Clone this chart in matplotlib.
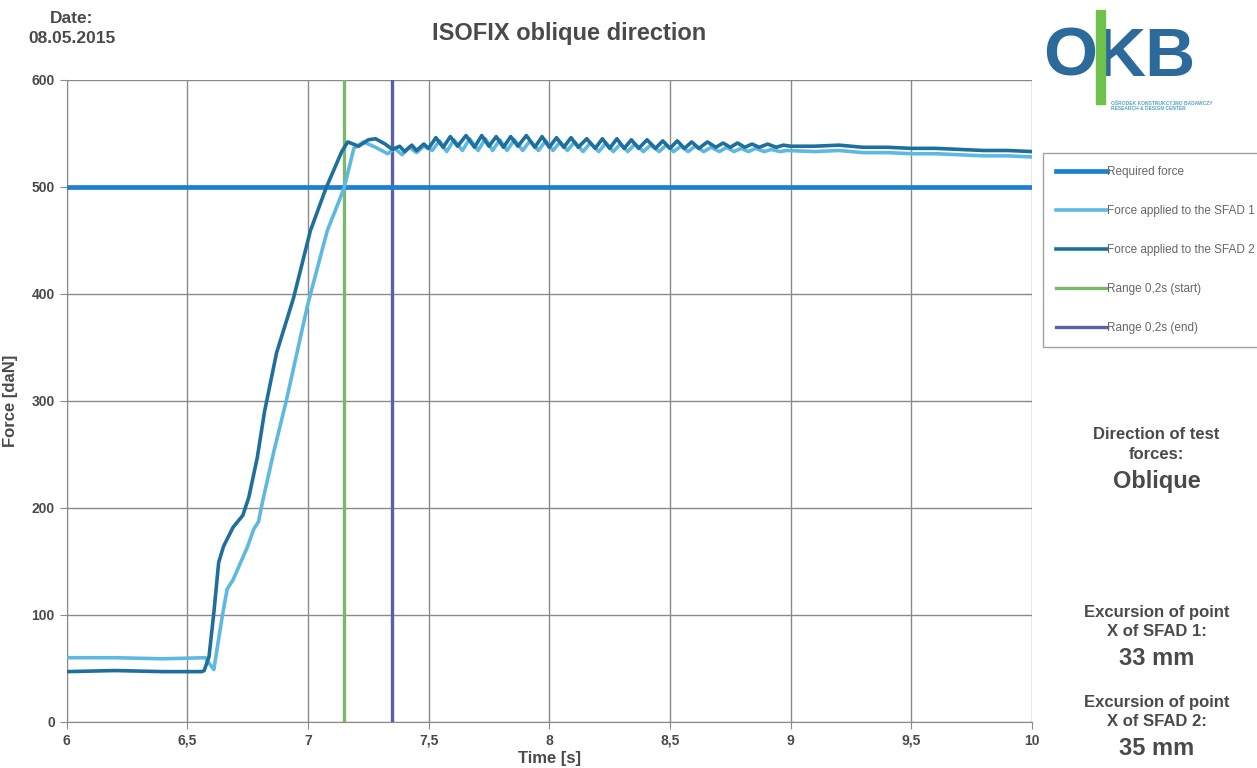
import numpy as np
import matplotlib
matplotlib.use('Agg')
import matplotlib.pyplot as plt
from matplotlib.patches import Rectangle

plt.rcParams['font.family'] = ['Liberation Sans', 'DejaVu Sans']
plt.rcParams['font.weight'] = 'bold'

# Colors
clr_req = '#1f7fd2'
clr_s1 = '#5db8e2'
clr_s2 = '#1f6f9e'
clr_start = '#7bb86c'
clr_end = '#5b5ea8'
clr_txt = '#4a4a4a'

# Data
required_force = 500
range_start = 7.15
range_end = 7.35

t_s2 = [6.0, 6.2, 6.4, 6.56, 6.57, 6.59, 6.61, 6.63, 6.65, 6.69, 6.73, 6.755, 6.79, 6.82,
        6.87, 6.94, 7.01, 7.075, 7.14, 7.165, 7.21, 7.25, 7.28, 7.32, 7.35, 7.38, 7.40,
        7.43, 7.45, 7.48,
        7.50, 7.53, 7.56, 7.59, 7.62, 7.655, 7.69, 7.72, 7.75, 7.78, 7.81, 7.84, 7.87,
        7.905, 7.94, 7.97, 8.00, 8.03, 8.06, 8.09, 8.12, 8.155, 8.19, 8.22, 8.25, 8.28,
        8.31, 8.34, 8.37, 8.405, 8.44, 8.47, 8.50, 8.53, 8.56, 8.59, 8.62, 8.655, 8.69,
        8.72, 8.75, 8.78, 8.81, 8.84, 8.87, 8.905, 8.94, 8.97, 9.00,
        9.1, 9.2, 9.3, 9.4, 9.5, 9.6, 9.7, 9.8, 9.9, 10.0]
f_s2 = [47, 48, 47, 47, 48, 61, 102, 149, 164, 182, 193, 210, 247, 290,
        345, 396, 459, 499, 533, 542, 538, 544, 545, 540, 535, 538, 533,
        539, 534, 540,
        536, 546, 537, 547, 538, 548, 537, 548, 538, 547, 537, 547, 538,
        548, 537, 547, 537, 546, 537, 546, 537, 545, 536, 545, 536, 545,
        536, 544, 536, 544, 536, 543, 536, 543, 536, 542, 536, 542, 537,
        541, 537, 541, 537, 540, 537, 540, 537, 539, 538,
        538, 539, 537, 537, 536, 536, 535, 534, 534, 533]

t_s1 = [6.0, 6.2, 6.4, 6.575, 6.59, 6.61, 6.645, 6.665, 6.69, 6.75, 6.775, 6.795, 6.81,
        6.86, 6.91, 7.0, 7.08, 7.15, 7.19, 7.23, 7.28, 7.33, 7.36, 7.39, 7.42, 7.45, 7.48,
        7.515, 7.545, 7.575, 7.605, 7.64, 7.67, 7.705, 7.735, 7.765, 7.795, 7.825, 7.855,
        7.89, 7.92, 7.955, 7.985, 8.015, 8.045, 8.075, 8.105, 8.14, 8.17, 8.205, 8.235,
        8.265, 8.295, 8.325, 8.355, 8.39, 8.42, 8.455, 8.485, 8.515, 8.545, 8.575, 8.605,
        8.64, 8.67, 8.705, 8.735, 8.765, 8.795, 8.825, 8.855, 8.89, 8.92, 8.955, 8.985,
        9.1, 9.2, 9.3, 9.4, 9.5, 9.6, 9.7, 9.8, 9.9, 10.0]
f_s1 = [60, 60, 59, 60, 55, 49, 99, 124, 133, 164, 180, 187, 204,
        254, 300, 391, 459, 499, 536, 542, 537, 531, 536, 530, 537, 532, 538,
        534, 543, 533, 544, 534, 545, 534, 545, 534, 544, 534, 544,
        534, 543, 534, 543, 534, 542, 534, 542, 533, 541, 533, 541,
        533, 540, 533, 540, 533, 539, 533, 539, 533, 538, 533, 538,
        533, 537, 533, 537, 533, 536, 533, 536, 533, 535, 533, 534,
        533, 534, 532, 532, 531, 531, 530, 529, 529, 528]

x_ticks = [6, 6.5, 7, 7.5, 8, 8.5, 9, 9.5, 10]
x_labels = ['6', '6,5', '7', '7,5', '8', '8,5', '9', '9,5', '10']
y_ticks = [0, 100, 200, 300, 400, 500, 600]

# Figure
fig = plt.figure(figsize=(12.57, 7.68), dpi=100)
ax = fig.add_axes([0.053, 0.060, 0.768, 0.836])

ax.plot([6, 10], [required_force, required_force], c=clr_req, lw=3.4, label='Required force', zorder=3)
ax.plot(t_s1, f_s1, c=clr_s1, lw=2.6, label='Force applied to the SFAD 1', zorder=4)
ax.plot(t_s2, f_s2, c=clr_s2, lw=2.6, label='Force applied to the SFAD 2', zorder=5)
ax.axvline(range_start, c=clr_start, lw=2.4, label='Range 0,2s (start)', zorder=2)
ax.axvline(range_end, c=clr_end, lw=2.4, label='Range 0,2s (end)', zorder=2)

ax.set(xlim=(6, 10), ylim=(0, 600))
ax.set_xticks(x_ticks)
ax.set_xticklabels(x_labels)
ax.set_yticks(y_ticks)
ax.grid(True, color='#8a8a8a', lw=1.0)
ax.set_axisbelow(True)
for s in ['top', 'right']:
    ax.spines[s].set_visible(False)
for s in ['left', 'bottom']:
    ax.spines[s].set_color('#8a8a8a')
ax.tick_params(direction='out', length=5, color='#8a8a8a', labelsize=10, labelcolor=clr_txt)
ax.set_xlabel('Time [s]', fontsize=12, fontweight='bold', color=clr_txt, labelpad=2)
ax.set_ylabel('Force [daN]', fontsize=12, fontweight='bold', color=clr_txt, labelpad=10)

# Legend
leg = fig.legend(loc='upper left', bbox_to_anchor=(0.830, 0.801), fontsize=8.5,
                 frameon=True, fancybox=False, edgecolor='#8a8a8a', handlelength=4.3,
                 handletextpad=0.0, labelspacing=2.3, borderpad=1.1, borderaxespad=0)
for txt in leg.get_texts():
    txt.set_color('#666666')
    txt.set_fontweight('normal')

# Texts
fig.text(0.057, 0.963, 'Date:\n08.05.2015', ha='center', va='center', fontsize=12.5,
         color=clr_txt, linespacing=1.45)
fig.text(0.453, 0.957, 'ISOFIX oblique direction', ha='center', va='center', fontsize=17,
         color=clr_txt)
fig.text(0.920, 0.421, 'Direction of test\nforces:', ha='center', va='center', fontsize=12,
         color=clr_txt, linespacing=1.4)
fig.text(0.920, 0.373, 'Oblique', ha='center', va='center', fontsize=17, color=clr_txt)
fig.text(0.920, 0.190, 'Excursion of point\nX of SFAD 1:', ha='center', va='center', fontsize=12,
         color=clr_txt, linespacing=1.4)
fig.text(0.920, 0.142, '33 mm', ha='center', va='center', fontsize=17, color=clr_txt)
fig.text(0.920, 0.073, 'Excursion of point\nX of SFAD 2:', ha='center', va='center', fontsize=12,
         color=clr_txt, linespacing=1.4)
fig.text(0.920, 0.025, '35 mm', ha='center', va='center', fontsize=17, color=clr_txt)

# Logo
fig.text(0.851, 0.925, 'O', ha='center', va='center', fontsize=50, color='#2b6a9b')
fig.text(0.911, 0.925, 'KB', ha='center', va='center', fontsize=50, color='#2b6a9b')
fig.add_artist(Rectangle((0.872, 0.865), 0.007, 0.122, transform=fig.transFigure,
                         color='#6cc24a', zorder=5))
fig.text(0.884, 0.862, 'OŚRODEK KONSTRUKCYJNO BADAWCZY\nRESEARCH & DESIGN CENTER', ha='left',
         va='center', fontsize=3.5, color='#4fa3c8', linespacing=1.2)

fig.savefig('out.png', dpi=100)
